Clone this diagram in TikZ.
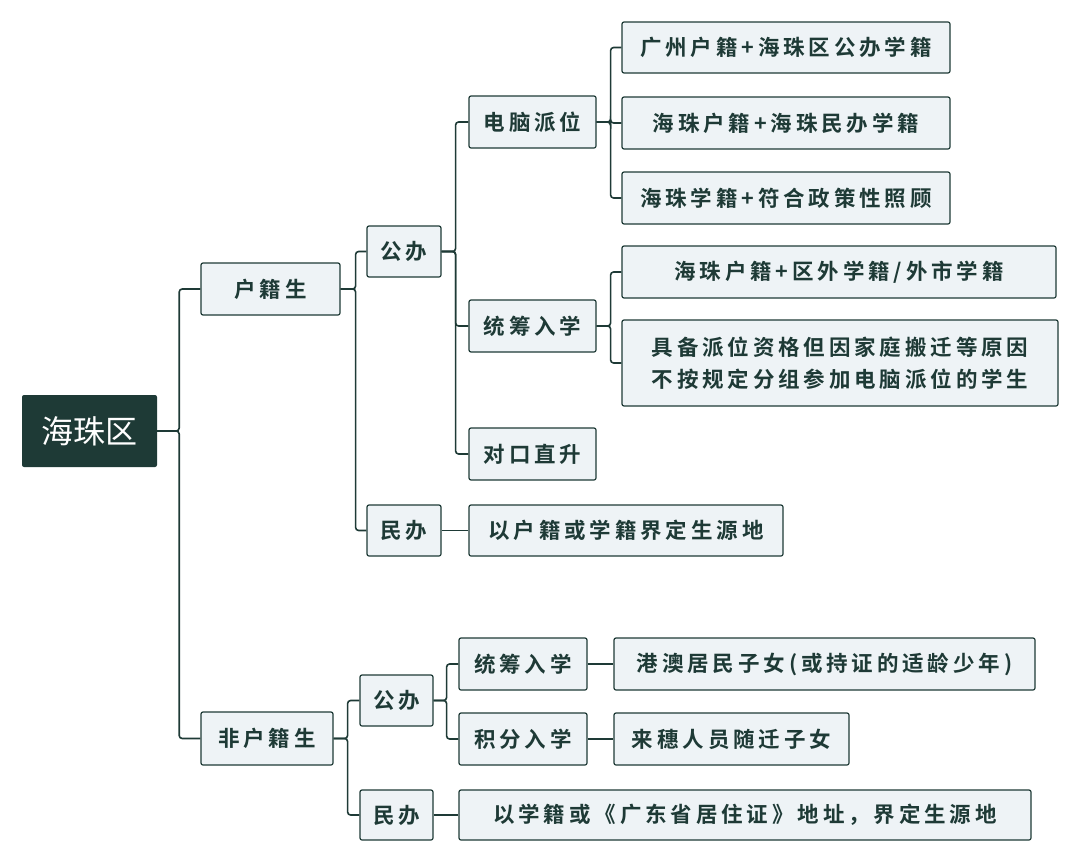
\documentclass[tikz,border=0pt]{standalone}
\usepackage{fontspec}
\newfontfamily\cjk{Noto Sans CJK SC}[BoldFont={Noto Sans CJK SC Bold}]
\newfontfamily\cjksp{Noto Sans CJK SC}[BoldFont={Noto Sans CJK SC Bold},LetterSpace=18]
\definecolor{ink}{HTML}{1E3A36}
\definecolor{boxfill}{HTML}{EEF3F6}
\begin{document}
\begin{tikzpicture}[x=1pt,y=-1pt,
  bx/.style={draw=ink,fill=boxfill,line width=1.2pt,rounded corners=2pt,inner sep=0pt,
    font=\cjksp\bfseries\fontsize{21.5}{32}\selectfont,text=ink},
  ln/.style={draw=ink,line width=1.6pt,rounded corners=3pt}]
\useasboundingbox (0,0) rectangle (1080,862);
\newcommand\bx[6]{\node[bx,minimum width=#4pt-#2pt,minimum height=#5pt-#3pt,align=left] (#1) at ({(#2+#4)/2},{(#3+#5)/2}) {#6};}
\node[fill=ink,rounded corners=2pt,minimum width=135pt,minimum height=72pt,text=white,font=\cjk\fontsize{32}{36}\selectfont] (root) at (89.5,431) {海珠区};
\bx{hj}{201}{263}{340}{315}{户籍生}
\bx{fhj}{201}{712}{333}{765}{非户籍生}
\bx{gb1}{367}{226}{441}{277}{公办}
\bx{mb1}{367}{505}{441}{556}{民办}
\bx{dn}{469}{96}{596}{148}{电脑派位}
\bx{tc1}{469}{300}{596}{352}{统筹入学}
\bx{dk}{469}{428}{596}{480}{对口直升}
\bx{mbt}{469}{505}{783}{556}{以户籍或学籍界定生源地}
\bx{a1}{622}{22}{950}{73}{广州户籍+海珠区公办学籍}
\bx{a2}{622}{97}{950}{149}{海珠户籍+海珠民办学籍}
\bx{a3}{622}{172}{950}{224}{海珠学籍+符合政策性照顾}
\bx{b1}{622}{246}{1056}{298}{海珠户籍+区外学籍/外市学籍}
\bx{b2}{622}{320}{1058}{406}{具备派位资格但因家庭搬迁等原因\\不按规定分组参加电脑派位的学生}
\bx{gb2}{360}{675}{433}{726}{公办}
\bx{mb2}{360}{790}{433}{840}{民办}
\bx{tc2}{459}{638}{587}{690}{统筹入学}
\bx{jf}{459}{713}{587}{765}{积分入学}
\bx{ga}{614}{638}{1035}{690}{港澳居民子女(或持证的适龄少年)}
\bx{ls}{614}{713}{849}{765}{来穗人员随迁子女}
\bx{mbt2}{459}{790}{1031}{840}{以学籍或《广东省居住证》地址，界定生源地}
% connectors
\foreach \c in {hj,fhj} \path[ln] (root.east) -- ++(22,0) |- (\c.west);
\foreach \c in {gb1,mb1} \path[ln] (hj.east) -- ++(15,0) |- (\c.west);
\foreach \c in {dn,tc1,dk} \path[ln] (gb1.east) -- ++(14,0) |- (\c.west);
\foreach \c in {a1,a2,a3} \path[ln] (dn.east) -- ++(14,0) |- (\c.west);
\foreach \c in {b1,b2} \path[ln] (tc1.east) -- ++(14,0) |- (\c.west);
\path[ln] (mb1.east) -- (mbt.west);
\foreach \c in {gb2,mb2} \path[ln] (fhj.east) -- ++(14,0) |- (\c.west);
\foreach \c in {tc2,jf} \path[ln] (gb2.east) -- ++(13,0) |- (\c.west);
\path[ln] (tc2.east) -- (ga.west);
\path[ln] (jf.east) -- (ls.west);
\path[ln] (mb2.east) -- (mbt2.west);
\end{tikzpicture}
\end{document}
